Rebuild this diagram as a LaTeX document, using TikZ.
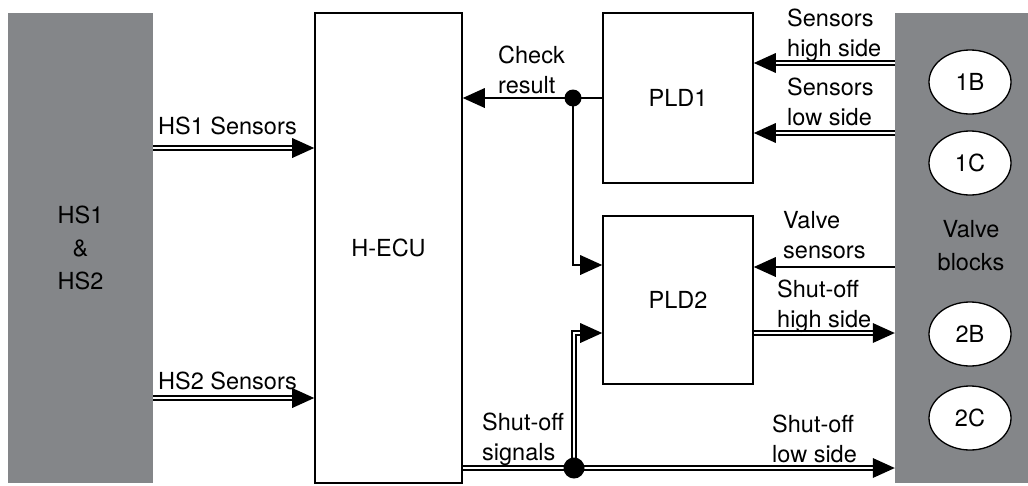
\documentclass[tikz,border=0pt]{standalone}
\usepackage{fontspec}
\setmainfont{TeX Gyre Heros}
\usetikzlibrary{decorations.markings,shapes.geometric,calc}
\definecolor{blockgray}{RGB}{132,134,137}
\begin{document}
\begin{tikzpicture}[x=1pt,y=-1pt,
  every node/.style={font=\fontsize{23.5}{30}\selectfont, inner sep=0pt},
  graybox/.style={fill=blockgray, draw=none},
  wbox/.style={draw, line width=1.6pt, fill=white},
  valve/.style={ellipse, draw, line width=1.3pt, fill=white, minimum width=82pt, minimum height=64pt},
  tip/.style={postaction={decorate,decoration={markings,mark=at position 1 with {\fill (0,0) -- (-22pt,10pt) -- (-22pt,-10pt) -- cycle;}}}},
  sig/.style={line width=1.7pt},
  sigarrow/.style={sig, shorten >=12pt, tip},
  dbl/.style={line width=1.4pt, double, double distance=2.4pt},
  dblarrow/.style={dbl, shorten >=12pt, tip},
  lbl/.style={anchor=west, align=left},
  dot/.style={circle, fill, minimum size=#1, inner sep=0pt}
]
\useasboundingbox (0,0) rectangle (1028,485);

% blocks
\node[graybox, minimum width=145pt, minimum height=470pt, align=center,
  font=\fontsize{23.5}{33}\selectfont] (hs) at (80.5,248) {HS1\\\&\\HS2};
\node[wbox, minimum width=147pt, minimum height=470pt] (hecu) at (388.5,248) {H-ECU};
\node[wbox, minimum width=150pt, minimum height=170pt] (pld1) at (678,98) {PLD1};
\node[wbox, minimum width=150pt, minimum height=168pt] (pld2) at (678,300) {PLD2};
\node[graybox, minimum width=133pt, minimum height=470pt] (vb) at (961.5,248) {};
\node[align=center, font=\fontsize{23.5}{33}\selectfont] (vbl) at (971,246) {Valve\\blocks};
\node[valve] (v1b) at (970,82) {1B};
\node[valve] (v1c) at (970,163) {1C};
\node[valve] (v2b) at (970,334) {2B};
\node[valve] (v2c) at (970,418) {2C};

% helper coordinates (levels)
\coordinate (yhs1) at (0,148);
\coordinate (yhs2) at (0,398);
\coordinate (ysh) at (0,63);
\coordinate (ysl) at (0,133);
\coordinate (yvs) at (0,267);
\coordinate (yp2a) at (0,265);
\coordinate (yp2b) at (0,333);
\coordinate (yso) at (0,468);
\coordinate (j1) at (573,98);
\coordinate (j2) at (574,468);

% connectors
\draw[dblarrow] (hs.east|-yhs1) -- (hecu.west|-yhs1);
\draw[dblarrow] (hs.east|-yhs2) -- (hecu.west|-yhs2);
\draw[sigarrow] (pld1.west) -- (hecu.east|-pld1.west);
\draw[sigarrow] (j1) |- (pld2.west|-yp2a);
\draw[dblarrow] (vb.west|-ysh) -- (pld1.east|-ysh);
\draw[dblarrow] (vb.west|-ysl) -- (pld1.east|-ysl);
\draw[sigarrow, line width=2.2pt] (vb.west|-yvs) -- (pld2.east|-yvs);
\draw[dblarrow] (pld2.east|-yp2b) -- (vb.west|-yp2b);
\draw[dblarrow] (hecu.east|-yso) -- (vb.west|-yso);
\draw[dblarrow] (j2) |- (pld2.west|-yp2b);
\node[dot=17pt] (d1) at (j1) {};
\node[dot=21pt] (d2) at (j2) {};

% labels
\node[lbl] (lhs1) at (158,126) {HS1 Sensors};
\node[lbl] (lhs2) at (158,381) {HS2 Sensors};
\node[lbl] (lcr) at (498,70) {Check\\result};
\node[lbl] (lsh) at (787,35) {Sensors\\high side};
\node[lbl] (lsl) at (787,102) {Sensors\\low side};
\node[lbl] (lvs) at (783,235) {Valve\\sensors};
\node[lbl] (lshh) at (777,306) {Shut-off\\high side};
\node[lbl] (lsls) at (772,439) {Shut-off\\low side};
\node[lbl] (lss) at (482,439) {Shut-off\\signals};
\end{tikzpicture}
\end{document}
